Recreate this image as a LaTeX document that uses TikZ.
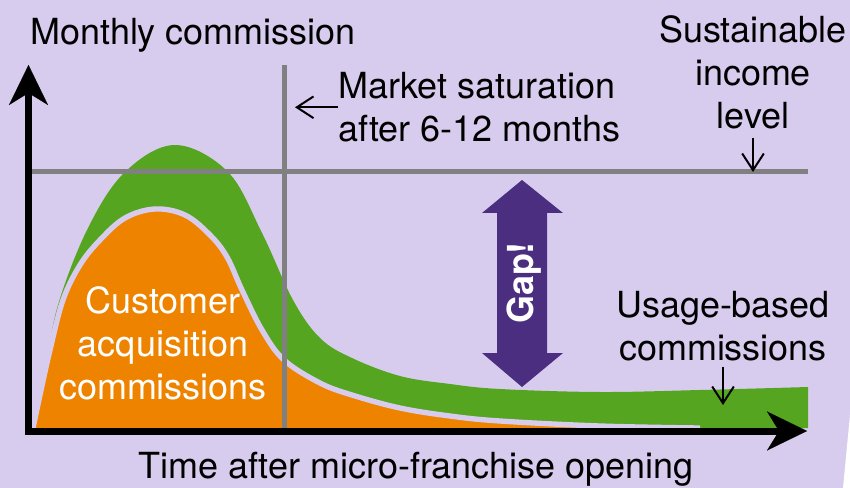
\documentclass[tikz,border=0pt]{standalone}
\usepackage{fontspec}
\setmainfont{TeX Gyre Heros}
\usetikzlibrary{arrows.meta}

\definecolor{bglav}{RGB}{216,204,238}
\definecolor{acqorange}{RGB}{238,131,0}
\definecolor{usegreen}{RGB}{85,165,32}
\definecolor{guidegray}{RGB}{128,128,128}
\definecolor{gappurple}{RGB}{76,46,128}

\newcommand{\labelfont}{\fontsize{30.7}{37}\selectfont}

\tikzset{
  axis/.style={line width=0.21cm, line join=miter,
    {Stealth[length=1.2cm,width=1.17cm,inset=0.36cm,line width=0.1pt]}-{Stealth[length=1.2cm,width=1.17cm,inset=0.36cm,line width=0.1pt]}},
  guide/.style={draw=guidegray, line width=0.15cm},
  note/.style={line width=0.06cm, -{Straight Barb[length=0.5cm,width=0.65cm]}},
  lbl/.style={font=\labelfont, inner sep=0pt, align=center},
}

\begin{document}
\begin{tikzpicture}[x=0.03cm,y=-0.03cm]
\fill[bglav] (0,0) rectangle (850,488);
\useasboundingbox (0,0) rectangle (850,488);
\fill[white] (850,415) -- (843,488) -- (850,488) -- cycle;

% usage-based band (green), acquisition hump (orange) on top
\fill[usegreen] plot[smooth, tension=0.6] coordinates {(33,428) (45,372) (58,305) (88,228) (125,172) (175,145) (228,172) (262,233) (293,300) (320,338) (352,358) (400,376) (450,384) (500,389) (600,392) (700,390) (808,387)} -- (808,428) -- cycle;
\draw[bglav, line width=0.16cm, fill=acqorange] plot[smooth, tension=0.6] coordinates {(33,428) (40,395) (50,350) (63,300) (80,265) (100,240) (125,218) (155,209) (185,215) (210,235) (227,257) (242,290) (262,330) (284,360) (320,383) (352,395) (400,408) (450,416) (500,421) (600,426) (700,428)};

% guides
\coordinate (o) at (28.5,431);
\coordinate (ytip) at (28.5,65);
\coordinate (xtip) at (807,431);
\coordinate (lvl) at (753,172);
\draw[guide] (32,172) -- (808,172);
\draw[guide] (284,65) -- (284,428);
\draw[axis] (ytip) -- (o) -- (xtip);

% gap arrow
\fill[gappurple] (522,180) -- (563,213) -- (547,213) -- (547,353) -- (563,353) -- (522,387)
  -- (482,353) -- (497,353) -- (497,213) -- (482,213) -- cycle;
\node[lbl, text=white, font=\labelfont\bfseries, rotate=90] (gap) at (524,283) {Gap!};

% labels
\node[lbl, anchor=base west] (ylab) at (30,45) {Monthly commission};
\node[lbl, anchor=base] (xlab) at (416,478) {Time after micro-franchise opening};
\node[lbl, anchor=north west, align=left] (mkt) at (338,72) {Market saturation\\after 6-12 months};
\node[lbl, anchor=north] (sust) at (753,15) {Sustainable\\income\\level};
\node[lbl, anchor=north] (usage) at (723,291) {Usage-based\\commissions};
\node[lbl, anchor=north, text=white] (acq) at (163,286) {Customer\\acquisition\\commissions};
\coordinate (satpt) at (295,103);
\coordinate (usept) at (723,405);

\draw[note] (mkt.west) -- (mkt.west -| satpt);
\draw[note, shorten <=0.24cm] (sust.south) -- (lvl);
\draw[note, shorten <=0.15cm] (usage.south) -- (usept);
\end{tikzpicture}
\end{document}
